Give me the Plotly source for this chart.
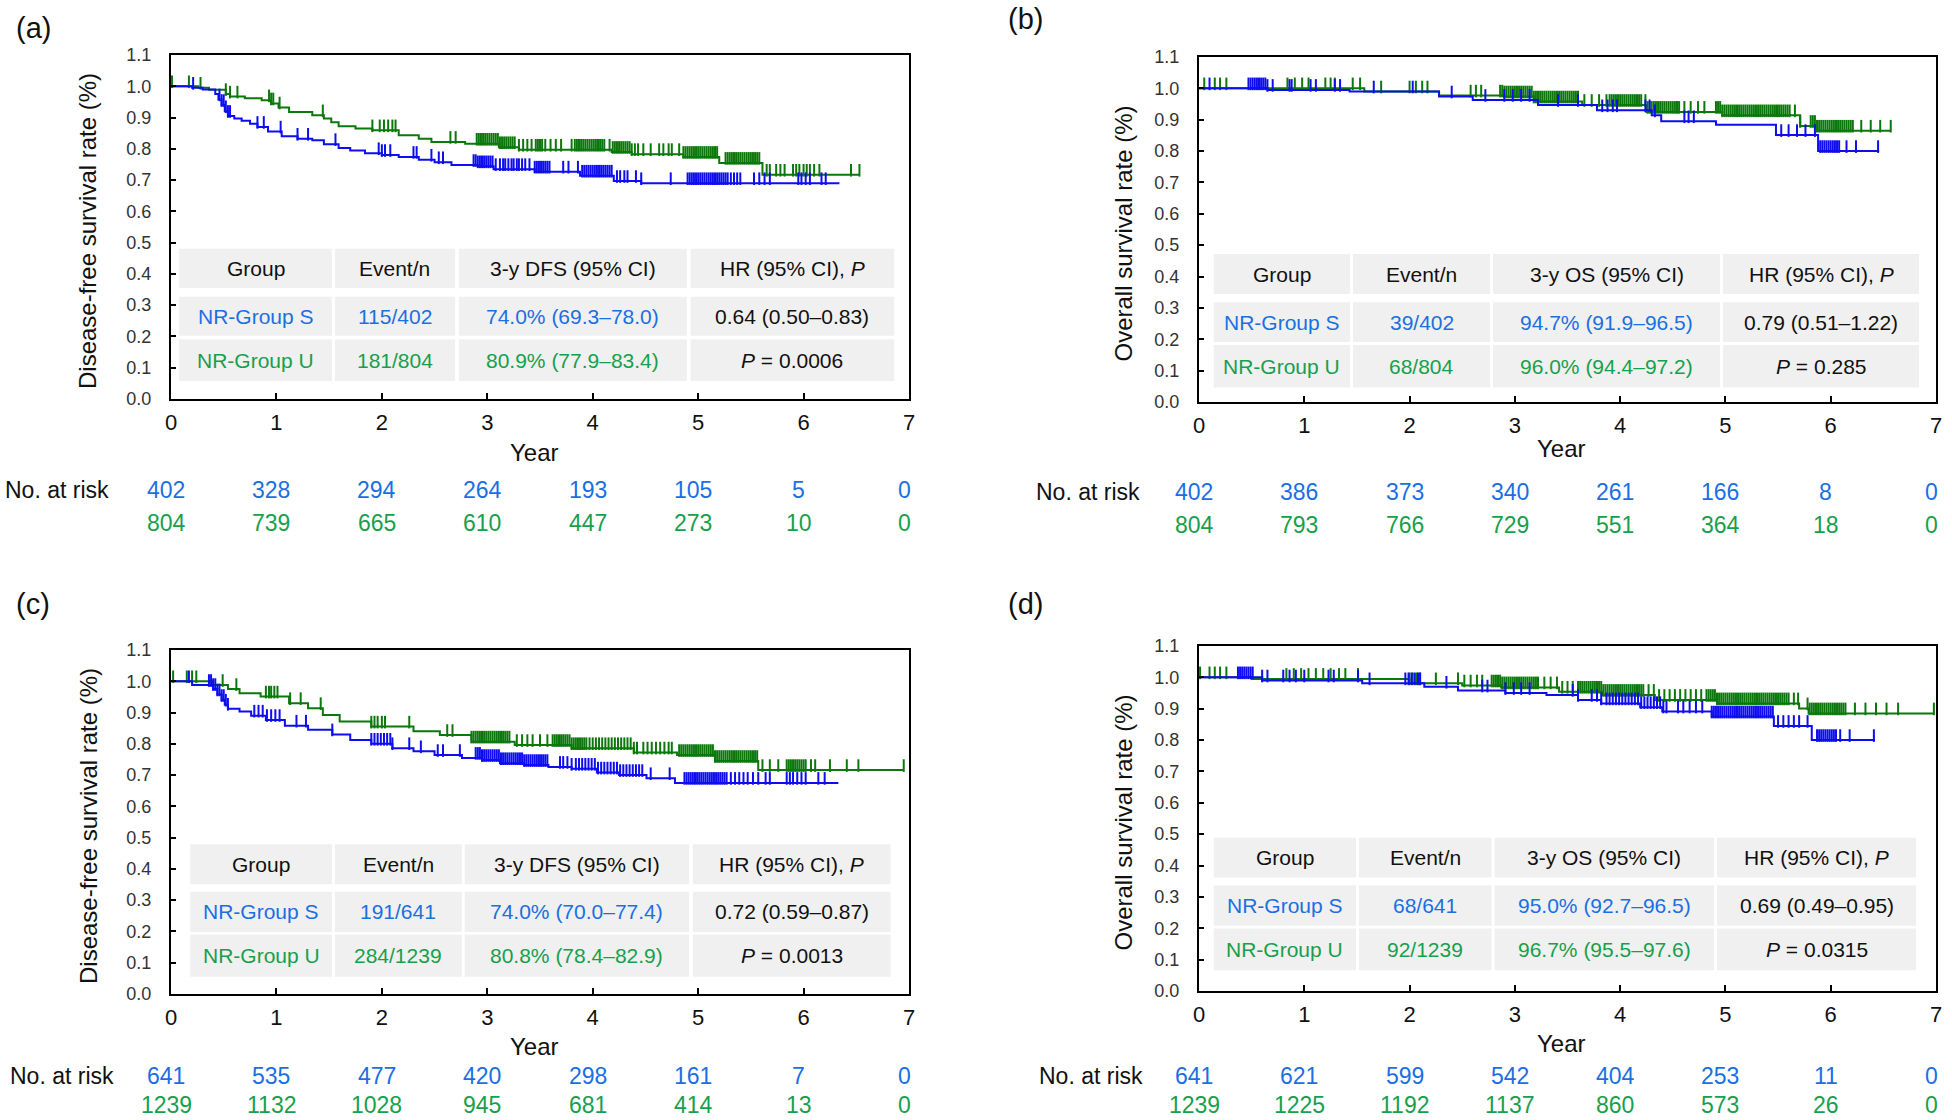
import numpy as np
import plotly.graph_objects as go

W, H = 1952, 1120
FONT = "Liberation Sans, Arial, Helvetica, sans-serif"
BLUE_LINE = "#0d0df0"
GREEN_LINE = "#0b780b"
BLUE_TXT = "#1a6fe3"
GREEN_TXT = "#17a04c"
CELL_BG = "#f0f0f0"
INK = "#111111"

year_ticks = [0, 1, 2, 3, 4, 5, 6, 7]
surv_ticks = [0.0, 0.1, 0.2, 0.3, 0.4, 0.5, 0.6, 0.7, 0.8, 0.9, 1.0, 1.1]

# ---------------- Panel (a): DFS, cohort 1 ----------------
a_S_t = [0, 0.20, 0.30, 0.42, 0.45, 0.48, 0.51, 0.54, 0.60, 0.67, 0.75, 0.82, 0.92, 1.05, 1.20, 1.34, 1.45, 1.59, 1.70,
         1.84, 2.00, 2.16, 2.35, 2.50, 2.66, 2.91, 3.06, 3.45, 3.88, 4.20, 4.46, 6.34]
a_S_s = [1.0, 0.995, 0.99, 0.975, 0.958, 0.94, 0.92, 0.905, 0.897, 0.89, 0.88, 0.87, 0.855, 0.84, 0.832, 0.827, 0.815,
         0.803, 0.795, 0.786, 0.780, 0.774, 0.765, 0.757, 0.748, 0.744, 0.735, 0.727, 0.714, 0.697, 0.690, 0.690]
a_U_t = [0, 0.26, 0.36, 0.52, 0.56, 0.70, 0.86, 0.95, 1.02, 1.12, 1.34, 1.45, 1.52, 1.59, 1.75, 1.91, 2.16, 2.35, 2.47,
         2.79, 3.11, 3.30, 4.18, 4.37, 4.86, 5.20, 5.61, 6.53]
a_U_s = [1.0, 0.995, 0.989, 0.975, 0.967, 0.962, 0.955, 0.945, 0.932, 0.918, 0.907, 0.897, 0.885, 0.872, 0.865, 0.859,
         0.843, 0.832, 0.822, 0.816, 0.805, 0.797, 0.790, 0.783, 0.774, 0.755, 0.717, 0.717]
a_S_cens = [0.21, 0.46, 0.48, 0.50, 0.52, 0.54, 0.56, 0.82, 0.88, 1.04, 1.20, 1.30, 1.56, 1.97, 2.00, 2.03, 2.08, 2.30,
            2.33, 2.47, 2.54, 2.58, 2.87, 2.89, 2.91, 2.93, 2.95, 2.97, 2.99, 3.01, 3.03, 3.05, 3.08, 3.12, 3.15, 3.17,
            3.20, 3.23, 3.25, 3.28, 3.30, 3.33, 3.36, 3.40, 3.45, 3.47, 3.49, 3.51, 3.53, 3.55, 3.57, 3.59, 3.72, 3.77,
            3.86, 3.90, 3.92, 3.94, 3.96, 3.98, 4.00, 4.02, 4.04, 4.06, 4.08, 4.10, 4.12, 4.14, 4.16, 4.18, 4.23, 4.26,
            4.30, 4.33, 4.41, 4.46, 4.74, 4.90, 4.92, 4.94, 4.96, 4.98, 5.00, 5.02, 5.04, 5.06, 5.08, 5.10, 5.12, 5.14,
            5.16, 5.18, 5.20, 5.22, 5.24, 5.26, 5.28, 5.31, 5.34, 5.37, 5.40, 5.53, 5.58, 5.63, 5.68, 5.95, 5.98, 6.02,
            6.06, 6.17, 6.21]
a_U_cens = [0.01, 0.17, 0.28, 0.52, 0.56, 0.63, 0.93, 0.95, 0.97, 1.03, 1.44, 1.91, 1.98, 2.02, 2.06, 2.10, 2.13, 2.65,
            2.70, 2.90, 2.92, 2.94, 2.96, 2.98, 3.00, 3.02, 3.04, 3.06, 3.08, 3.10, 3.12, 3.14, 3.16, 3.18, 3.20, 3.22,
            3.24, 3.26, 3.30, 3.34, 3.38, 3.42, 3.46, 3.48, 3.50, 3.52, 3.55, 3.60, 3.65, 3.70, 3.80, 3.83, 3.85, 3.87,
            3.89, 3.91, 3.93, 3.95, 3.97, 3.99, 4.01, 4.03, 4.05, 4.07, 4.09, 4.11, 4.16, 4.19, 4.21, 4.23, 4.25, 4.27,
            4.29, 4.31, 4.33, 4.35, 4.37, 4.40, 4.43, 4.48, 4.55, 4.63, 4.67, 4.72, 4.75, 4.82, 4.86, 4.88, 4.90, 4.92,
            4.94, 4.96, 4.98, 5.00, 5.02, 5.04, 5.06, 5.08, 5.10, 5.12, 5.14, 5.16, 5.18, 5.26, 5.28, 5.30, 5.32, 5.34,
            5.36, 5.38, 5.40, 5.42, 5.44, 5.46, 5.48, 5.50, 5.52, 5.54, 5.56, 5.58, 5.65, 5.68, 5.74, 5.78, 5.82, 5.90,
            5.93, 5.96, 6.00, 6.03, 6.06, 6.10, 6.15, 6.45, 6.53]
a_risk_S = [402, 328, 294, 264, 193, 105, 5, 0]
a_risk_U = [804, 739, 665, 610, 447, 273, 10, 0]
a_header = ["Group", "Event/n", "3-y DFS (95% CI)", "HR (95% CI), <i>P</i>"]
a_row_S = ["NR-Group S", "115/402", "74.0% (69.3–78.0)", "0.64 (0.50–0.83)"]
a_row_U = ["NR-Group U", "181/804", "80.9% (77.9–83.4)", "<i>P</i> = 0.0006"]

# ---------------- Panel (b): OS, cohort 1 ----------------
b_S_t = [0, 0.65, 1.43, 2.28, 2.60, 3.22, 3.78, 4.30, 4.39, 4.91, 5.48, 5.88, 6.46]
b_S_s = [1.0, 0.995, 0.99, 0.974, 0.963, 0.947, 0.93, 0.914, 0.895, 0.884, 0.851, 0.80, 0.80]
b_U_t = [0, 1.57, 2.28, 2.90, 3.18, 3.64, 4.25, 4.97, 5.71, 5.87, 6.57]
b_U_s = [1.0, 0.99, 0.977, 0.974, 0.958, 0.947, 0.925, 0.914, 0.88, 0.865, 0.865]
b_S_cens = [0.10, 0.47, 0.49, 0.51, 0.53, 0.55, 0.57, 0.59, 0.61, 0.63, 0.65, 0.70, 0.86, 0.88, 1.06, 1.11, 1.29, 1.34,
            1.66, 2.03, 2.40, 2.72, 2.90, 2.98, 3.06, 3.14, 3.41, 3.60, 3.83, 3.88, 3.93, 3.97, 4.24, 4.28, 4.33, 4.61,
            4.65, 4.70, 5.53, 5.60, 5.68, 5.76, 5.85, 5.90, 5.92, 5.94, 5.96, 5.98, 6.00, 6.02, 6.04, 6.06, 6.08, 6.15,
            6.24, 6.45]
b_U_cens = [0.05, 0.15, 0.20, 0.26, 0.84, 0.91, 0.98, 1.04, 1.20, 1.25, 1.29, 1.46, 1.53, 1.73, 2.00, 2.06, 2.12, 2.17,
            2.58, 2.63, 2.68, 2.86, 2.88, 2.90, 2.92, 2.94, 2.96, 2.98, 3.00, 3.02, 3.04, 3.06, 3.08, 3.10, 3.12, 3.14,
            3.16, 3.18, 3.20, 3.22, 3.24, 3.26, 3.28, 3.30, 3.32, 3.34, 3.36, 3.38, 3.40, 3.42, 3.44, 3.46, 3.48, 3.50,
            3.52, 3.54, 3.56, 3.58, 3.60, 3.66, 3.73, 3.80, 3.87, 3.90, 3.92, 3.94, 3.96, 3.98, 4.00, 4.02, 4.04, 4.06,
            4.08, 4.10, 4.12, 4.14, 4.16, 4.18, 4.20, 4.24, 4.26, 4.28, 4.30, 4.32, 4.34, 4.36, 4.38, 4.40, 4.42, 4.44,
            4.46, 4.48, 4.50, 4.52, 4.54, 4.56, 4.61, 4.67, 4.74, 4.80, 4.91, 4.93, 4.95, 4.97, 4.99, 5.01, 5.03, 5.05,
            5.07, 5.09, 5.11, 5.13, 5.15, 5.17, 5.19, 5.21, 5.23, 5.25, 5.27, 5.29, 5.31, 5.33, 5.35, 5.37, 5.39, 5.41,
            5.43, 5.45, 5.47, 5.49, 5.51, 5.53, 5.55, 5.57, 5.59, 5.61, 5.66, 5.71, 5.81, 5.83, 5.85, 5.87, 5.89, 5.91,
            5.93, 5.95, 5.97, 5.99, 6.01, 6.03, 6.05, 6.07, 6.09, 6.11, 6.13, 6.15, 6.17, 6.19, 6.21, 6.29, 6.38, 6.47,
            6.57]
b_risk_S = [402, 386, 373, 340, 261, 166, 8, 0]
b_risk_U = [804, 793, 766, 729, 551, 364, 18, 0]
b_header = ["Group", "Event/n", "3-y OS (95% CI)", "HR (95% CI), <i>P</i>"]
b_row_S = ["NR-Group S", "39/402", "94.7% (91.9–96.5)", "0.79 (0.51–1.22)"]
b_row_U = ["NR-Group U", "68/804", "96.0% (94.4–97.2)", "<i>P</i> = 0.285"]

# ---------------- Panel (c): DFS, cohort 2 ----------------
c_S_t = [0, 0.20, 0.40, 0.44, 0.48, 0.51, 0.54, 0.65, 0.76, 0.90, 1.08, 1.30, 1.53, 1.70, 1.90, 2.10, 2.30, 2.50, 2.76,
         2.95, 3.12, 3.35, 3.58, 3.80, 4.04, 4.25, 4.51, 4.78, 6.33]
c_S_s = [1.0, 0.988, 0.975, 0.958, 0.94, 0.925, 0.912, 0.903, 0.89, 0.876, 0.858, 0.845, 0.83, 0.812, 0.80, 0.786, 0.776,
         0.764, 0.755, 0.748, 0.738, 0.732, 0.726, 0.72, 0.708, 0.70, 0.69, 0.675, 0.675]
c_U_t = [0, 0.40, 0.54, 0.65, 0.85, 1.12, 1.30, 1.44, 1.60, 1.90, 2.30, 2.55, 2.85, 3.26, 3.80, 4.39, 4.80, 5.16, 5.57,
         6.95]
c_U_s = [1.0, 0.988, 0.975, 0.962, 0.951, 0.93, 0.914, 0.892, 0.871, 0.855, 0.84, 0.828, 0.807, 0.796, 0.786, 0.772,
         0.764, 0.745, 0.716, 0.716]
c_S_cens = [0.17, 0.36, 0.38, 0.40, 0.42, 0.44, 0.46, 0.48, 0.50, 0.52, 0.54, 0.79, 0.83, 0.87, 0.91, 0.95, 0.99, 1.03,
            1.19, 1.28, 1.53, 1.90, 1.93, 1.96, 1.99, 2.02, 2.05, 2.08, 2.10, 2.26, 2.37, 2.53, 2.58, 2.74, 2.89, 2.91,
            2.93, 2.95, 2.97, 2.99, 3.01, 3.03, 3.05, 3.07, 3.09, 3.11, 3.13, 3.15, 3.17, 3.19, 3.21, 3.23, 3.25, 3.27,
            3.29, 3.31, 3.33, 3.35, 3.37, 3.39, 3.41, 3.43, 3.45, 3.47, 3.49, 3.51, 3.53, 3.55, 3.57, 3.69, 3.72, 3.76,
            3.80, 3.84, 3.87, 3.90, 3.93, 3.96, 3.99, 4.02, 4.05, 4.08, 4.11, 4.14, 4.17, 4.20, 4.23, 4.26, 4.29, 4.32,
            4.35, 4.38, 4.41, 4.44, 4.47, 4.55, 4.73, 4.87, 4.89, 4.91, 4.93, 4.95, 4.97, 4.99, 5.01, 5.03, 5.05, 5.07,
            5.09, 5.11, 5.13, 5.15, 5.17, 5.19, 5.21, 5.23, 5.25, 5.27, 5.31, 5.35, 5.39, 5.43, 5.47, 5.52, 5.57, 5.64,
            5.68, 5.84, 5.87, 5.90, 5.94, 5.98, 6.02, 6.14, 6.20]
c_U_cens = [0.02, 0.15, 0.20, 0.24, 0.49, 0.62, 0.90, 0.93, 0.95, 0.98, 1.01, 1.13, 1.23, 1.42, 1.90, 1.93, 1.96, 2.00,
            2.03, 2.26, 2.62, 2.67, 2.85, 2.87, 2.89, 2.91, 2.93, 2.95, 2.97, 2.99, 3.01, 3.03, 3.05, 3.07, 3.09, 3.11,
            3.13, 3.15, 3.17, 3.19, 3.21, 3.28, 3.33, 3.38, 3.43, 3.50, 3.57, 3.62, 3.64, 3.66, 3.68, 3.70, 3.72, 3.74,
            3.76, 3.78, 3.80, 3.82, 3.84, 3.86, 3.88, 3.90, 3.92, 3.94, 3.97, 4.00, 4.03, 4.06, 4.09, 4.12, 4.15, 4.18,
            4.21, 4.24, 4.27, 4.30, 4.33, 4.36, 4.39, 4.42, 4.48, 4.52, 4.56, 4.60, 4.64, 4.68, 4.72, 4.75, 4.82, 4.84,
            4.86, 4.88, 4.90, 4.92, 4.94, 4.96, 4.98, 5.00, 5.02, 5.04, 5.06, 5.08, 5.10, 5.12, 5.14, 5.16, 5.18, 5.20,
            5.22, 5.24, 5.26, 5.28, 5.30, 5.32, 5.34, 5.36, 5.38, 5.40, 5.42, 5.44, 5.46, 5.48, 5.50, 5.52, 5.54, 5.56,
            5.61, 5.68, 5.76, 5.84, 5.86, 5.88, 5.90, 5.92, 5.94, 5.96, 5.98, 6.00, 6.02, 6.07, 6.11, 6.25, 6.41, 6.52,
            6.95]
c_risk_S = [641, 535, 477, 420, 298, 161, 7, 0]
c_risk_U = [1239, 1132, 1028, 945, 681, 414, 13, 0]
c_header = ["Group", "Event/n", "3-y DFS (95% CI)", "HR (95% CI), <i>P</i>"]
c_row_S = ["NR-Group S", "191/641", "74.0% (70.0–77.4)", "0.72 (0.59–0.87)"]
c_row_U = ["NR-Group U", "284/1239", "80.8% (78.4–82.9)", "<i>P</i> = 0.0013"]

# ---------------- Panel (d): OS, cohort 2 ----------------
d_S_t = [0, 0.60, 1.55, 2.14, 2.46, 2.91, 3.30, 3.60, 3.82, 4.19, 4.40, 4.87, 5.46, 5.82, 6.42]
d_S_s = [1.0, 0.99, 0.981, 0.97, 0.958, 0.95, 0.944, 0.928, 0.917, 0.905, 0.891, 0.875, 0.845, 0.80, 0.80]
d_U_t = [0, 0.50, 2.00, 2.50, 2.87, 3.42, 3.83, 4.33, 4.92, 5.70, 5.79, 6.98]
d_U_s = [1.0, 0.995, 0.981, 0.974, 0.968, 0.954, 0.944, 0.928, 0.917, 0.901, 0.885, 0.885]
d_S_cens = [0.37, 0.39, 0.41, 0.43, 0.45, 0.47, 0.49, 0.51, 0.60, 0.65, 0.80, 0.86, 0.92, 1.00, 1.23, 1.28, 1.51, 1.62,
            1.96, 1.99, 2.02, 2.05, 2.08, 2.10, 2.35, 2.69, 2.74, 2.91, 2.99, 3.06, 3.14, 3.55, 3.60, 3.73, 3.78, 3.82,
            3.87, 3.90, 3.93, 3.96, 3.99, 4.02, 4.05, 4.08, 4.11, 4.14, 4.17, 4.20, 4.23, 4.26, 4.29, 4.32, 4.35, 4.38,
            4.41, 4.44, 4.55, 4.60, 4.66, 4.72, 4.78, 4.87, 4.89, 4.91, 4.93, 4.95, 4.97, 4.99, 5.01, 5.03, 5.05, 5.07,
            5.09, 5.11, 5.13, 5.15, 5.17, 5.19, 5.21, 5.23, 5.25, 5.27, 5.29, 5.31, 5.33, 5.35, 5.37, 5.39, 5.41, 5.43,
            5.45, 5.50, 5.55, 5.60, 5.65, 5.70, 5.78, 5.87, 5.89, 5.91, 5.93, 5.95, 5.97, 5.99, 6.01, 6.03, 6.05, 6.09,
            6.18, 6.41]
d_U_cens = [0.01, 0.10, 0.15, 0.20, 0.26, 0.83, 0.90, 0.97, 1.04, 1.11, 1.18, 1.25, 1.33, 1.39, 1.51, 2.00, 2.03, 2.07,
            2.10, 2.25, 2.46, 2.52, 2.58, 2.64, 2.69, 2.78, 2.80, 2.82, 2.84, 2.86, 2.88, 2.90, 2.92, 2.94, 2.96, 2.98,
            3.00, 3.02, 3.04, 3.06, 3.08, 3.10, 3.12, 3.14, 3.16, 3.18, 3.20, 3.22, 3.28, 3.34, 3.40, 3.45, 3.50, 3.55,
            3.60, 3.62, 3.64, 3.66, 3.68, 3.70, 3.72, 3.74, 3.76, 3.78, 3.80, 3.82, 3.84, 3.86, 3.88, 3.90, 3.92, 3.94,
            3.96, 3.98, 4.00, 4.02, 4.04, 4.06, 4.08, 4.10, 4.12, 4.14, 4.16, 4.18, 4.20, 4.22, 4.27, 4.32, 4.37, 4.42,
            4.47, 4.52, 4.57, 4.62, 4.67, 4.72, 4.77, 4.82, 4.84, 4.86, 4.88, 4.90, 4.92, 4.94, 4.96, 4.98, 5.00, 5.02,
            5.04, 5.06, 5.08, 5.10, 5.12, 5.14, 5.16, 5.18, 5.20, 5.22, 5.24, 5.26, 5.28, 5.30, 5.32, 5.34, 5.36, 5.38,
            5.40, 5.42, 5.44, 5.46, 5.48, 5.50, 5.52, 5.54, 5.56, 5.58, 5.60, 5.65, 5.69, 5.78, 5.80, 5.82, 5.84, 5.86,
            5.88, 5.90, 5.92, 5.94, 5.96, 5.98, 6.00, 6.02, 6.04, 6.06, 6.08, 6.10, 6.12, 6.14, 6.23, 6.33, 6.43, 6.53,
            6.64, 6.98]
d_risk_S = [641, 621, 599, 542, 404, 253, 11, 0]
d_risk_U = [1239, 1225, 1192, 1137, 860, 573, 26, 0]
d_header = ["Group", "Event/n", "3-y OS (95% CI)", "HR (95% CI), <i>P</i>"]
d_row_S = ["NR-Group S", "68/641", "95.0% (92.7–96.5)", "0.69 (0.49–0.95)"]
d_row_U = ["NR-Group U", "92/1239", "96.7% (95.5–97.6)", "<i>P</i> = 0.0315"]

# ---------------- layout geometry (pixels) ----------------
panels = [
    dict(label="(a)", lab_xy=(14, 28), box=(171, 909, 55, 399), ytitle="Disease-free survival rate (%)",
         ytitle_x=87, year_y=452, risk_y=(490, 523), nar_right=111,
         S=(a_S_t, a_S_s, a_S_cens, a_risk_S), U=(a_U_t, a_U_s, a_U_cens, a_risk_U),
         table=(a_header, a_row_S, a_row_U),
         cols=[(0.011, 0.218), (0.222, 0.385), (0.390, 0.699), (0.704, 0.980)],
         rows=[(0.323, 0.437), (0.184, 0.297), (0.052, 0.174)]),
    dict(label="(b)", lab_xy=(1006, 19), box=(1199, 1936, 57, 402), ytitle="Overall survival rate (%)",
         ytitle_x=1123, year_y=448, risk_y=(492, 525), nar_right=1142,
         S=(b_S_t, b_S_s, b_S_cens, b_risk_S), U=(b_U_t, b_U_s, b_U_cens, b_risk_U),
         table=(b_header, b_row_S, b_row_U),
         cols=[(0.020, 0.205), (0.209, 0.395), (0.399, 0.707), (0.711, 0.977)],
         rows=[(0.313, 0.429), (0.174, 0.289), (0.042, 0.165)]),
    dict(label="(c)", lab_xy=(14, 604), box=(171, 909, 650, 994), ytitle="Disease-free survival rate (%)",
         ytitle_x=88, year_y=1046, risk_y=(1076, 1105), nar_right=116,
         S=(c_S_t, c_S_s, c_S_cens, c_risk_S), U=(c_U_t, c_U_s, c_U_cens, c_risk_U),
         table=(c_header, c_row_S, c_row_U),
         cols=[(0.026, 0.218), (0.222, 0.394), (0.398, 0.702), (0.707, 0.975)],
         rows=[(0.319, 0.435), (0.180, 0.297), (0.050, 0.172)]),
    dict(label="(d)", lab_xy=(1006, 604), box=(1199, 1936, 646, 991), ytitle="Overall survival rate (%)",
         ytitle_x=1123, year_y=1043, risk_y=(1076, 1105), nar_right=1145,
         S=(d_S_t, d_S_s, d_S_cens, d_risk_S), U=(d_U_t, d_U_s, d_U_cens, d_risk_U),
         table=(d_header, d_row_S, d_row_U),
         cols=[(0.020, 0.213), (0.217, 0.397), (0.401, 0.699), (0.703, 0.973)],
         rows=[(0.329, 0.444), (0.189, 0.306), (0.060, 0.181)]),
]


def px(xp):
    return xp / W


def py(yp):
    return 1 - yp / H


def step_value(t_steps, s_steps, times):
    idx = np.searchsorted(np.asarray(t_steps), np.asarray(times), side="right") - 1
    idx = np.clip(idx, 0, len(s_steps) - 1)
    return np.asarray(s_steps)[idx]


fig = go.Figure()
shapes = []
annotations = []
layout_axes = {}

TICK_H_PX = 9

for i, p in enumerate(panels):
    n = i + 1
    xs = "" if n == 1 else str(n)
    xname, yname = "x" + xs, "y" + xs
    left, right, top, bottom = p["box"]
    ppu = (bottom - top) / 1.1  # pixels per survival unit
    off = (TICK_H_PX / 2) / ppu

    for grp, col in (("U", GREEN_LINE), ("S", BLUE_LINE)):
        t, s, cens, _ = p[grp]
        fig.add_trace(go.Scatter(x=t, y=s, mode="lines", line=dict(color=col, width=2, shape="hv"),
                                 xaxis=xname, yaxis=yname, showlegend=False, hoverinfo="skip"))
        cy = step_value(t, s, cens) + off
        fig.add_trace(go.Scatter(x=cens, y=cy, mode="markers",
                                 marker=dict(symbol="line-ns", size=TICK_H_PX, color=col,
                                             line=dict(color=col, width=2)),
                                 xaxis=xname, yaxis=yname, showlegend=False, hoverinfo="skip"))

    layout_axes["xaxis" + xs] = dict(
        domain=[px(left), px(right)], anchor=yname, range=[0, 7], tickvals=year_ticks,
        ticktext=[str(v) for v in year_ticks], ticks="inside", ticklen=6, tickwidth=1.5, tickcolor="black",
        showline=True, linewidth=2, linecolor="black", mirror=True, showgrid=False, zeroline=False,
        automargin=False,
        tickfont=dict(family=FONT, size=22, color=INK), ticklabelstandoff=3, fixedrange=True)
    layout_axes["yaxis" + xs] = dict(
        domain=[py(bottom), py(top)], anchor=xname, range=[0, 1.1], tickvals=surv_ticks,
        ticktext=["%.1f" % v for v in surv_ticks], ticks="inside", ticklen=5, tickwidth=1.5, tickcolor="black",
        showline=True, linewidth=2, linecolor="black", mirror=True, showgrid=False, zeroline=False,
        automargin=False,
        tickfont=dict(family=FONT, size=18, color="#333333"), ticklabelstandoff=14, fixedrange=True)

    # table
    xd, yd = xname + " domain", yname + " domain"
    header, rowS, rowU = p["table"]
    row_colors = [[INK] * 4, [BLUE_TXT, BLUE_TXT, BLUE_TXT, INK], [GREEN_TXT, GREEN_TXT, GREEN_TXT, INK]]
    for r, (rtxt, (y0, y1)) in enumerate(zip([header, rowS, rowU], p["rows"])):
        for c, (x0, x1) in enumerate(p["cols"]):
            shapes.append(dict(type="rect", xref=xd, yref=yd, x0=x0, x1=x1, y0=y0, y1=y1,
                               fillcolor=CELL_BG, line=dict(width=0), layer="below"))
            annotations.append(dict(xref=xd, yref=yd, x=(x0 + x1) / 2, y=(y0 + y1) / 2, text=rtxt[c],
                                    showarrow=False, xanchor="center", yanchor="middle",
                                    font=dict(family=FONT, size=21, color=row_colors[r][c])))

    # axis title texts
    annotations.append(dict(xref=xd, yref="paper", x=0.5, y=py(p["year_y"]), text="Year", showarrow=False,
                            xanchor="center", yanchor="middle", xshift=-6,
                            font=dict(family=FONT, size=24, color=INK)))
    annotations.append(dict(xref="paper", yref="paper", x=px(p["ytitle_x"]), y=py((top + bottom) / 2 + 4),
                            text=p["ytitle"], textangle=-90, showarrow=False, xanchor="center",
                            yanchor="middle", font=dict(family=FONT, size=24, color=INK)))
    annotations.append(dict(xref="paper", yref="paper", x=px(p["lab_xy"][0]), y=py(p["lab_xy"][1]),
                            text=p["label"], showarrow=False, xanchor="left", yanchor="middle",
                            font=dict(family=FONT, size=29, color=INK)))
    # number at risk
    annotations.append(dict(xref="paper", yref="paper", x=px(p["nar_right"]), y=py(p["risk_y"][0]),
                            text="No. at risk", showarrow=False, xanchor="right", yanchor="middle",
                            font=dict(family=FONT, size=23, color=INK)))
    for grp, col, ry in (("S", BLUE_TXT, p["risk_y"][0]), ("U", GREEN_TXT, p["risk_y"][1])):
        risk = p[grp][3]
        for yr, val in zip(year_ticks, risk):
            annotations.append(dict(xref=xname, yref="paper", x=yr, y=py(ry), text=str(val), showarrow=False,
                                    xanchor="center", yanchor="middle", xshift=-5,
                                    font=dict(family=FONT, size=23, color=col)))

fig.update_layout(
    width=W, height=H, margin=dict(l=0, r=0, t=0, b=0, autoexpand=False),
    paper_bgcolor="white", plot_bgcolor="white",
    shapes=shapes, annotations=annotations, showlegend=False,
    font=dict(family=FONT, color=INK),
    **layout_axes,
)

fig.write_html("out.html", config={"displayModeBar": False},
               post_script="document.body.style.margin='0px';document.body.style.overflow='hidden';")
